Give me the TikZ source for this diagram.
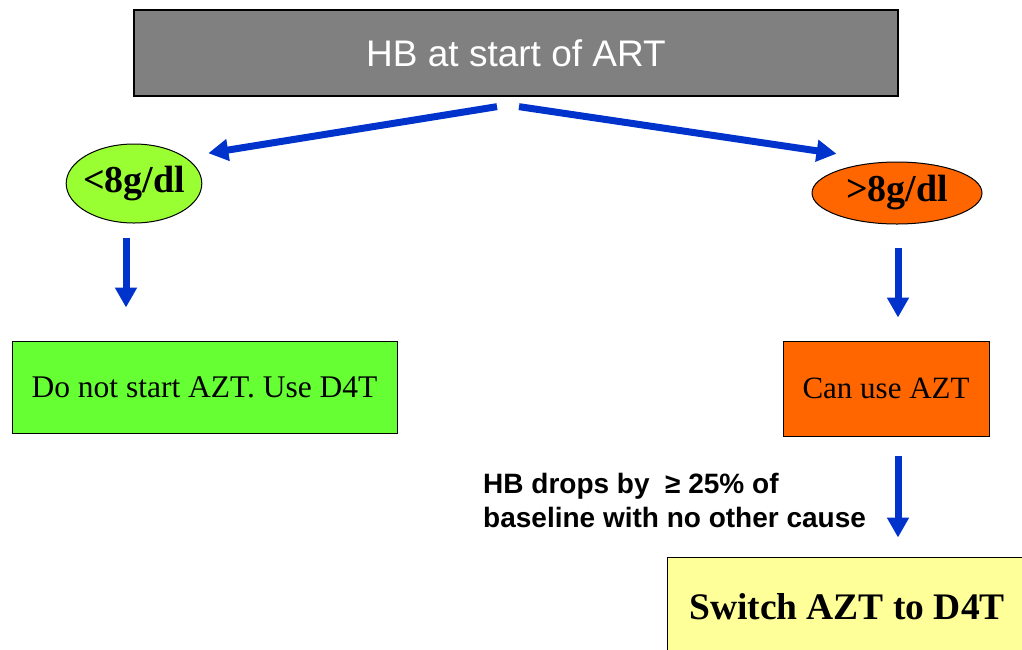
\documentclass[tikz,border=0pt]{standalone}
\usepackage{fontspec}
\setmainfont{Liberation Serif}
\setsansfont{Liberation Sans}
\usetikzlibrary{shapes.geometric,arrows.meta}
\definecolor{hbgray}{RGB}{128,128,128}
\definecolor{lowgreen}{RGB}{153,255,51}
\definecolor{boxgreen}{RGB}{102,255,51}
\definecolor{hborange}{RGB}{255,102,0}
\definecolor{paleyellow}{RGB}{255,255,153}
\definecolor{flowblue}{RGB}{0,51,204}
\begin{document}
\begin{tikzpicture}[x=1pt, y=-1pt,
    box/.style={draw, line width=1pt, rectangle, inner sep=0pt},
    oval/.style={draw, line width=1pt, ellipse, inner sep=-3pt, font=\fontsize{38}{40}\selectfont\bfseries},
    flow/.style={draw=flowblue, line width=7pt, -{Triangle[width=21pt,length=20pt]}}]
                    \useasboundingbox (0,0) rectangle (1022,649);
                    \clip (0,0) rectangle (1022,649);
                    % top box
                    \node[box, line width=1.3pt, fill=hbgray, text=white, minimum width=764, minimum height=86,
                          font=\sffamily\fontsize{37}{40}\selectfont] (hbstart) at (516,53) {HB at start of ART};
                    % the two branches
                    \node[oval, fill=lowgreen, minimum width=134, minimum height=79] (lowhb) at (134,183.5) {<8g/dl};
                    \node[oval, fill=hborange, minimum width=170, minimum height=62] (highhb) at (897,193) {>8g/dl};
                    \node[box, fill=boxgreen, minimum width=385, minimum height=92,
                          font=\fontsize{31.5}{34}\selectfont] (donot) at (204.5,387.5) {Do not start AZT. Use D4T};
                    \node[box, fill=hborange, minimum width=206, minimum height=95,
                          font=\fontsize{31}{34}\selectfont] (canuse) at (886,388.5) {Can use AZT};
                    \node[box, fill=paleyellow, minimum width=360, minimum height=100,
                          font=\fontsize{37.5}{40}\selectfont\bfseries] (switch) at (847,607) {Switch AZT to D4T};
                    \node[anchor=west, inner sep=0pt, align=left,
                          font=\sffamily\bfseries\fontsize{28}{34}\selectfont] (drop) at (483,500)
                          {HB drops by\ \ ≥ 25\% of\\baseline with no other cause};
                    % arrows
                    \draw[flow] ([xshift=-19pt,yshift=-10pt]hbstart.south) -- ([xshift=26pt,yshift=2pt]lowhb.north east);
                    \draw[flow] ([xshift=3pt,yshift=-10pt]hbstart.south) -- ([yshift=17pt]highhb.north west);
                    \draw[flow] ([xshift=-8pt,yshift=-14pt]lowhb.south) -- ++(0,70);
                    \draw[flow] ([xshift=1pt,yshift=-23pt]highhb.south) -- ++(0,70);
                    \draw[flow] ([xshift=12pt,yshift=-19pt]canuse.south) -- ++(0,82);
                \end{tikzpicture}
\end{document}
